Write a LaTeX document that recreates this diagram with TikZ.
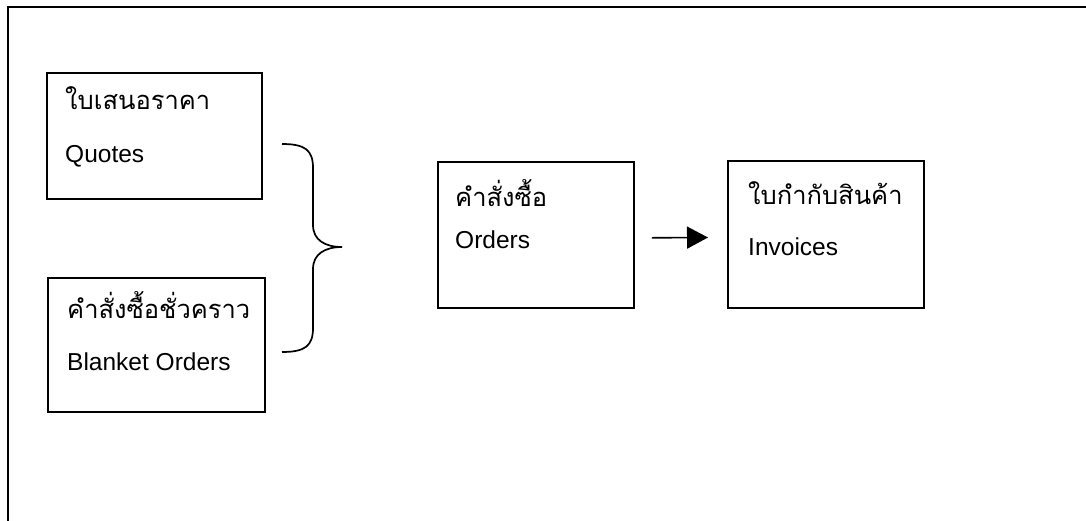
\documentclass[tikz,border=0pt]{standalone}
\usepackage{fontspec}
\setmainfont{Liberation Sans}
\newfontfamily\thaifont[Script=Thai]{Loma}
\usetikzlibrary{arrows.meta,calc}
\begin{document}
\begin{tikzpicture}[x=1pt,y=-1pt,
  docbox/.style={draw=black,line width=1.8pt,inner sep=0pt,anchor=north west},
  thaitext/.style={anchor=base west,inner sep=0pt,font=\thaifont\fontsize{25.5}{28}\selectfont},
  engtext/.style={anchor=base west,inner sep=0pt,font=\fontsize{24.5}{28}\selectfont},
  frameline/.style={line width=1.8pt}]
\useasboundingbox (0,0) rectangle (1086,521);
% outer frame (top and left only)
\coordinate (fbl) at (8,521);
\coordinate (ftl) at (8,7);
\coordinate (ftr) at (1086,7);
\draw[frameline] (fbl) -- (ftl) -- (ftr);
% boxes
\node[docbox,minimum width=215pt,minimum height=126pt] (quotes) at (46,72) {};
\node[docbox,minimum width=217pt,minimum height=134pt] (blanket) at (47,277) {};
\node[docbox,minimum width=196pt,minimum height=146pt] (orders) at (437,161) {};
\node[docbox,minimum width=196pt,minimum height=147pt] (invoices) at (727,160) {};
% texts
\node[thaitext] (q1) at (65,110) {ใบเสนอราคา};
\node[engtext] (q2) at (65,163) {Quotes};
\node[thaitext] (b1) at (67,318) {คำสั่งซื้อชั่วคราว};
\node[engtext] (b2) at (67,370) {Blanket Orders};
\node[thaitext] (o1) at (455,207) {คำสั่งซื้อ};
\node[engtext] (o2) at (455,248) {Orders};
\node[thaitext] (i1) at (748,205) {ใบกำกับสินค้า};
\node[engtext] (i2) at (748,255) {Invoices};
% brace
\coordinate (btop) at (282,144);
\coordinate (btip) at (342,247);
\coordinate (bbot) at (282,352);
\draw[line width=1.7pt]
  (btop) .. controls (305,144) and (313,150) .. (313,168)
  -- (313,225) .. controls (313,240) and (325,247) .. (btip)
  .. controls (325,247) and (313,254) .. (313,269)
  -- (313,328) .. controls (313,346) and (305,352) .. (bbot);
% arrow
\draw[line width=1.6pt,-{Triangle[length=21pt,width=22pt]},shorten <=17pt,shorten >=19pt]
  ($(orders.east)+(0,3)$) -- ($(invoices.west)+(0,3)$);
\end{tikzpicture}
\end{document}
